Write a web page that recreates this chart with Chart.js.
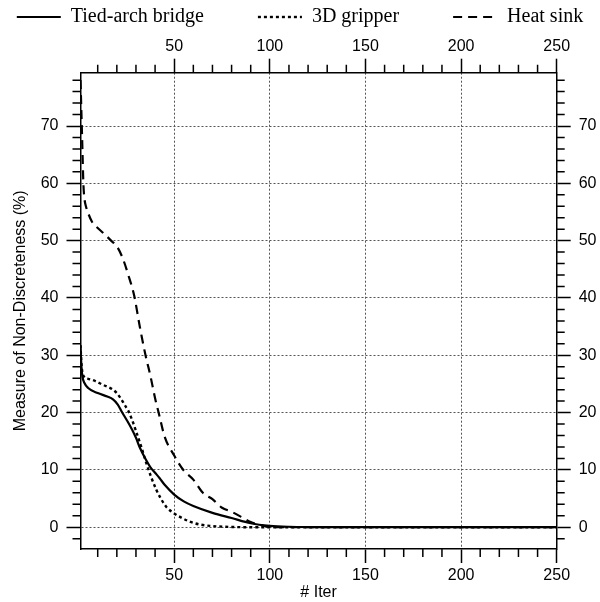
<!DOCTYPE html>
<html>
<head>
<meta charset="utf-8">
<script src="https://cdn.jsdelivr.net/npm/chart.js@4"></script>
<style>
html,body{margin:0;padding:0;background:#fff}
#wrap{width:600px;height:602px}
</style>
</head>
<body>
<div id="wrap"><canvas id="chart" width="600" height="602"></canvas></div>
<script>
// ---- data ----
const seriesNames = ["Tied-arch bridge", "3D gripper", "Heat sink"];

const bridgeIter = [1, 1.5, 2, 3, 5, 10, 15, 18, 20.5, 22.5, 25, 28, 30, 32, 35, 37.5, 40, 42.5, 45, 50, 55, 60, 70, 80, 90, 100, 110, 130, 250];
const bridgeVal  = [31.5, 28, 26.3, 25.2, 24.3, 23.4, 22.8, 22.3, 21.4, 20.2, 18.8, 17.0, 15.6, 13.9, 11.9, 10.5, 9.5, 8.5, 7.4, 5.7, 4.5, 3.7, 2.5, 1.6, 0.7, 0.25, 0.08, 0, 0];

const gripperIter = [1, 1.5, 2, 3, 5, 8, 13, 18, 20, 22, 24, 26, 28, 30, 33, 35.5, 38, 40.7, 43, 46, 50, 53, 58, 63, 70, 80, 90, 250];
const gripperVal  = [31.8, 28.5, 27, 26.2, 25.9, 25.6, 24.8, 24.0, 23.4, 22.5, 21.4, 20.3, 18.7, 16.8, 13.8, 11.1, 8.7, 6.5, 5.0, 3.5, 2.4, 1.8, 1.0, 0.5, 0.2, 0.05, 0, 0];

const heatIter = [1, 1.5, 2, 2.5, 3, 4, 5, 7, 10, 13, 17, 20, 23, 26, 29, 32, 35, 37.5, 40, 42, 45, 50, 55, 60, 65, 70, 75, 80, 85, 90, 95, 100, 110, 250];
const heatVal  = [78, 72, 66, 60, 57.5, 55.8, 54.8, 53.3, 52.2, 51.3, 50, 49, 47, 44, 40.5, 35, 30, 26.5, 22.5, 19.8, 15.8, 12.5, 9.9, 8.3, 6.0, 4.9, 3.4, 2.7, 1.8, 0.9, 0.4, 0.05, 0, 0];

const xTicks = [50, 100, 150, 200, 250];
const yTicks = [0, 10, 20, 30, 40, 50, 60, 70];
const xRange = [1, 250];
const yRange = [-3.8, 79.3];

// ---- helpers ----
const sans = '"Liberation Sans", Arial, Helvetica, sans-serif';
const serif = '"Liberation Serif", "Times New Roman", serif';
const tickFont = {family: sans, size: 16};
const legendPad = 54;     // spacing between legend entries
const legendShift = 47;   // pulls the legend row up
const sidePad = 40;       // lets the legend row use a bit more than the canvas width

function pts(xs, ys){
  return xs.map((x, i) => ({x: x, y: ys[i]}));
}

function axis(pos, ticks, range, extra){
  const horiz = pos === "top" || pos === "bottom";
  return Object.assign({
    type: "linear",
    position: pos,
    min: range[0],
    max: range[1],
    afterBuildTicks: s => { s.ticks = ticks.map(v => ({value: v})); },
    grid: {
      drawOnChartArea: false,
      color: "#555",
      lineWidth: 1,
      tickColor: "#000",
      tickWidth: 1.5,
      tickLength: 14,
      tickBorderDash: []
    },
    border: {display: true, color: "#000", width: 1.5, dash: [2, 2]},
    ticks: {color: "#000", font: tickFont, padding: horiz ? 3 : 8, autoSkip: false, maxRotation: 0}
  }, extra || {});
}

// minor tick marks, placed through the chart's own scales
const minorTicks = {
  id: "minorTicks",
  afterDraw(chart){
    const ctx = chart.ctx;
    const a = chart.chartArea;
    const sx = chart.scales.x, sy = chart.scales.y;
    ctx.save();
    ctx.strokeStyle = "#000";
    ctx.lineWidth = 1.5;
    ctx.beginPath();
    for(let v = 10; v < xRange[1]; v += 10){
      if(v % 50 === 0) continue;
      const px = sx.getPixelForValue(v);
      ctx.moveTo(px, a.bottom); ctx.lineTo(px, a.bottom + 8);
      ctx.moveTo(px, a.top); ctx.lineTo(px, a.top - 8);
    }
    for(let v = -2; v < yRange[1]; v += 2){
      if(v % 10 === 0) continue;
      const py = sy.getPixelForValue(v);
      ctx.moveTo(a.left, py); ctx.lineTo(a.left - 8, py);
      ctx.moveTo(a.right, py); ctx.lineTo(a.right + 8, py);
    }
    ctx.stroke();
    ctx.restore();
  }
};

const lineBase = {
  borderColor: "#000",
  backgroundColor: "#000",
  pointRadius: 0,
  fill: false,
  cubicInterpolationMode: "monotone"
};

new Chart(document.getElementById("chart"), {
  type: "line",
  data: {
    datasets: [
      Object.assign({label: seriesNames[0], data: pts(bridgeIter, bridgeVal), borderWidth: 2.2, borderDash: []}, lineBase),
      Object.assign({label: seriesNames[1], data: pts(gripperIter, gripperVal), borderWidth: 2.4, borderDash: [3, 3]}, lineBase),
      Object.assign({label: seriesNames[2], data: pts(heatIter, heatVal), borderWidth: 2.2, borderDash: [9, 6]}, lineBase)
    ]
  },
  options: {
    responsive: false,
    animation: false,
    devicePixelRatio: 1,
    layout: {padding: {top: -legendShift, left: -sidePad, right: -sidePad, bottom: 0}},
    plugins: {
      tooltip: {enabled: false},
      legend: {
        position: "top",
        labels: {
          usePointStyle: true,
          pointStyle: "line",
          pointStyleWidth: 44,
          padding: legendPad,
          color: "#000",
          font: {family: serif, size: 20},
          generateLabels: chart => chart.data.datasets.map((ds, i) => ({
            text: ds.label,
            fillStyle: "#000",
            strokeStyle: "#000",
            fontColor: "#000",
            lineWidth: ds.borderWidth,
            lineDash: ds.borderDash,
            pointStyle: "line",
            hidden: false,
            datasetIndex: i
          }))
        }
      }
    },
    scales: {
      x: axis("bottom", xTicks, xRange, {
        afterFit: s => { s.height = 53; },
        title: {display: true, text: "# Iter", color: "#000", font: tickFont, padding: {top: 0, bottom: 0}}
      }),
      x2: axis("top", xTicks, xRange, {
        afterFit: s => { s.height = 72.7 - (s.chart.legend ? s.chart.legend.height - legendShift : 0); }
      }),
      y: axis("left", yTicks, yRange, {
        afterFit: s => { s.width = 80.5 + sidePad; },
        title: {display: true, text: "Measure of Non-Discreteness (%)", color: "#000", font: tickFont, padding: {top: 11 + sidePad, bottom: 0}}
      }),
      y2: axis("right", yTicks, yRange, {
        afterFit: s => { s.width = 43.3 + sidePad; }
      })
    }
  },
  plugins: [minorTicks]
});

// dotted grid lines inside the plot: only from the main axes
const ch = Chart.getChart("chart");
ch.options.scales.x.grid.drawOnChartArea = true;
ch.options.scales.y.grid.drawOnChartArea = true;
ch.update();
</script>
</body>
</html>
